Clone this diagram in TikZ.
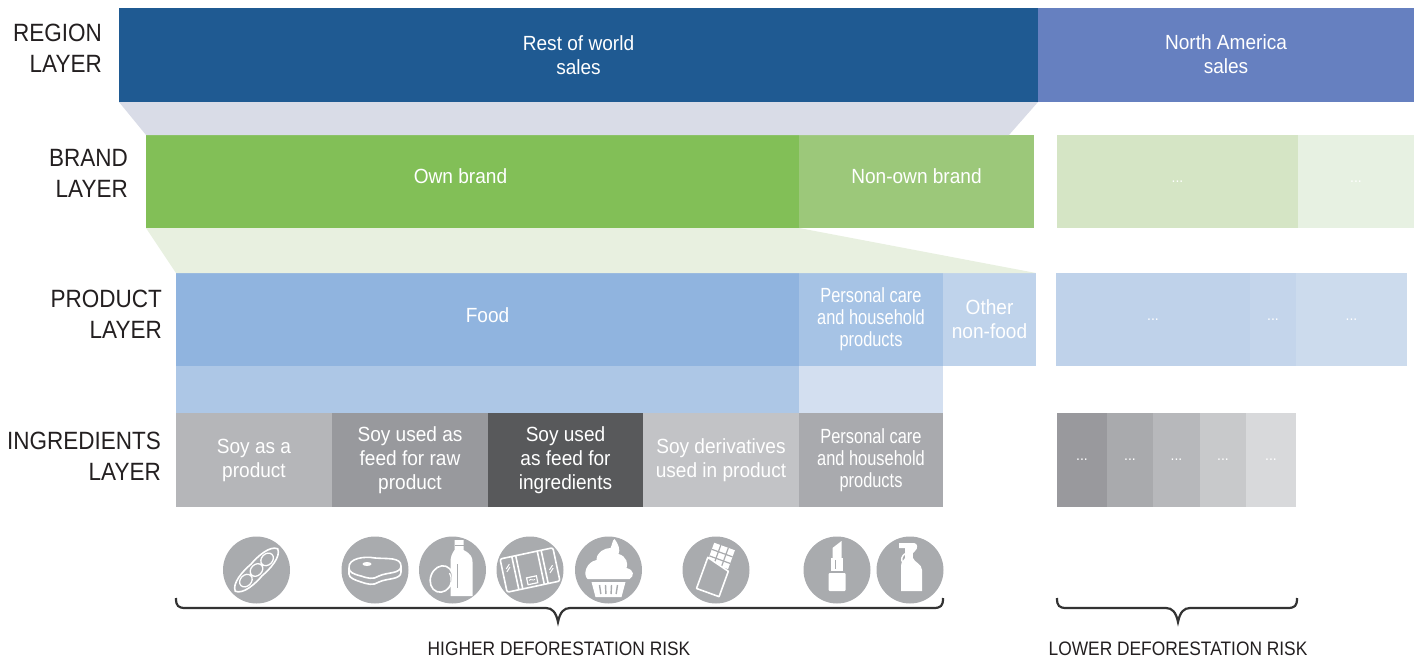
\documentclass[tikz,border=0pt]{standalone}
\usepackage{fontspec}
\setmainfont{Liberation Sans}[FakeStretch=0.93]
\newfontfamily\condfont{Liberation Sans}[FakeStretch=0.8]
\newfontfamily\labfont{Liberation Sans}[FakeStretch=0.9]
\newfontfamily\riskfont{Liberation Sans}[FakeStretch=0.89]
\definecolor{regionblue}{HTML}{1F5A92}
\definecolor{nablue}{HTML}{6680C0}
\definecolor{trapA}{HTML}{D9DCE7}
\definecolor{trapB}{HTML}{E8F0E0}
\definecolor{ownbrand}{HTML}{82BF57}
\definecolor{nonown}{HTML}{9CC87A}
\definecolor{brandRa}{HTML}{D5E5C5}
\definecolor{brandRb}{HTML}{E7F1E2}
\definecolor{foodc}{HTML}{90B4DF}
\definecolor{pcarec}{HTML}{A6C3E5}
\definecolor{othnfc}{HTML}{BFD3EB}
\definecolor{bandA}{HTML}{ADC7E6}
\definecolor{bandB}{HTML}{D3DFF0}
\definecolor{prodRa}{HTML}{BFD2EA}
\definecolor{prodRb}{HTML}{C4D5EB}
\definecolor{prodRc}{HTML}{CCDBED}
\definecolor{ingA}{HTML}{B5B6B9}
\definecolor{ingB}{HTML}{98999D}
\definecolor{ingC}{HTML}{58595B}
\definecolor{ingD}{HTML}{C2C3C6}
\definecolor{ingE}{HTML}{A9AAAE}
\definecolor{ingRa}{HTML}{99999D}
\definecolor{ingRb}{HTML}{A9AAAD}
\definecolor{ingRc}{HTML}{B7B8BB}
\definecolor{ingRd}{HTML}{C8C9CB}
\definecolor{ingRe}{HTML}{D8D9DB}
\definecolor{circgrey}{HTML}{A9ABAE}
\definecolor{bracec}{HTML}{333333}
\definecolor{labtext}{HTML}{231F20}
\begin{document}
\begin{tikzpicture}[x=1pt,y=-1pt,
  box/.style={draw=none,inner sep=0pt,outer sep=0pt,anchor=north west,align=center,text=white,
    font=\fontsize{20.5}{24}\selectfont},
  cbox/.style={box,font=\condfont\fontsize{20.5}{22}\selectfont},
  dots/.style={box,font=\fontsize{15}{18}\selectfont},
  layerlabel/.style={anchor=east,align=right,inner sep=0pt,text=labtext,font=\labfont\fontsize{25}{31}\selectfont},
  risklabel/.style={anchor=base,inner sep=0pt,text=labtext,font=\riskfont\fontsize{19.5}{22}\selectfont},
  icon/.style={circle,fill=circgrey,minimum size=67pt,inner sep=0pt},
  wline/.style={white,line width=1.6pt},
  bracestyle/.style={draw=bracec,line width=2.2pt}]
\useasboundingbox (0,0) rectangle (1417,659);

% region layer
\node[box,fill=regionblue,minimum width=919pt,minimum height=94pt] (row) at (119,8) {Rest of world\\sales};
\node[box,fill=nablue,minimum width=376pt,minimum height=94pt,text depth=2pt] (na) at (1038,8) {North America\\sales};

% brand layer
\node[box,fill=ownbrand,minimum width=653pt,minimum height=93pt,text depth=10pt] (own) at (146,135) {Own brand\hspace*{24pt}};
\node[box,fill=nonown,minimum width=235pt,minimum height=93pt,text depth=10pt] (nonown) at (799,135) {Non-own brand};
\node[dots,fill=brandRa,minimum width=241pt,minimum height=93pt] (brRa) at (1057,135) {...};
\node[dots,fill=brandRb,minimum width=116pt,minimum height=93pt] (brRb) at (1298,135) {...};

% trapezoids
\fill[trapA] (row.south west) -- (row.south east) -- (1009,135) -- (own.north west) -- cycle;

% product layer
\node[box,fill=foodc,minimum width=623pt,minimum height=93pt,text depth=8pt] (food) at (176,273) {Food};
\node[cbox,fill=pcarec,minimum width=144pt,minimum height=93pt] (pcare) at (799,273) {Personal care\\and household\\products};
\node[box,fill=othnfc,minimum width=93pt,minimum height=93pt] (othnf) at (943,273) {Other\\non-food};
\node[dots,fill=prodRa,minimum width=194pt,minimum height=93pt] (prRa) at (1056,273) {...};
\node[dots,fill=prodRb,minimum width=46pt,minimum height=93pt] (prRb) at (1250,273) {...};
\node[dots,fill=prodRc,minimum width=111pt,minimum height=93pt] (prRc) at (1296,273) {...};

\fill[trapB] (own.south west) -- (own.south east) -- (othnf.north east) -- (food.north west) -- cycle;

% band
\node[box,fill=bandA,minimum width=623pt,minimum height=47pt] (bandA) at (176,366) {};
\node[box,fill=bandB,minimum width=144pt,minimum height=47pt] (bandB) at (799,366) {};

% ingredients layer
\node[box,fill=ingA,minimum width=156pt,minimum height=94pt] (ingA) at (176,413) {Soy as a\\product};
\node[box,fill=ingB,minimum width=156pt,minimum height=94pt] (ingB) at (332,413) {Soy used as\\feed for raw\\product};
\node[box,fill=ingC,minimum width=155pt,minimum height=94pt] (ingC) at (488,413) {Soy used\\as feed for\\ingredients};
\node[box,fill=ingD,minimum width=156pt,minimum height=94pt] (ingD) at (643,413) {Soy derivatives\\used in product};
\node[cbox,fill=ingE,minimum width=144pt,minimum height=94pt] (ingE) at (799,413) {Personal care\\and household\\products};
\node[dots,fill=ingRa,minimum width=50pt,minimum height=94pt] (ingRa) at (1057,413) {...};
\node[dots,fill=ingRb,minimum width=46pt,minimum height=94pt] (ingRb) at (1107,413) {...};
\node[dots,fill=ingRc,minimum width=47pt,minimum height=94pt] (ingRc) at (1153,413) {...};
\node[dots,fill=ingRd,minimum width=46pt,minimum height=94pt] (ingRd) at (1200,413) {...};
\node[dots,fill=ingRe,minimum width=50pt,minimum height=94pt] (ingRe) at (1246,413) {...};

% layer labels
\node[layerlabel] (lregion) at (102,48) {REGION\\LAYER};
\node[layerlabel] (lbrand) at (128,173) {BRAND\\LAYER};
\node[layerlabel] (lproduct) at (162,314) {PRODUCT\\LAYER};
\node[layerlabel] (lingr) at (161,456) {INGREDIENTS\\LAYER};

% icons
\node[icon] (icSoy) at (256.5,570) {};
\node[icon] (icSteak) at (375,570) {};
\node[icon] (icMilk) at (452.5,570) {};
\node[icon] (icBox) at (530,570) {};
\node[icon] (icCake) at (608.5,570) {};
\node[icon] (icChoc) at (716,570) {};
\node[icon] (icLip) at (837,570) {};
\node[icon] (icSpray) at (910,570) {};

% soybean pod
\begin{scope}[shift={(icSoy.center)},rotate=45]
  \draw[wline] (-30,0) .. controls (-27,-8) and (-10,-9) .. (0,-8) .. controls (10,-9) and (27,-8) .. (30,0)
     .. controls (27,8) and (10,9) .. (0,8) .. controls (-10,9) and (-27,8) .. (-30,0) -- cycle;
  \draw[wline,line width=1.3pt,fill=circgrey] (-15,0) ellipse [x radius=7,y radius=5.5] (0,0) ellipse [x radius=7,y radius=5.5] (15,0) ellipse [x radius=7,y radius=5.5];
\end{scope}

% steak
\begin{scope}[shift={(icSteak.center)}]
  \draw[wline] (-26,-2) -- (-26,4) .. controls (-26,8) and (-20,10) .. (-14,12) .. controls (-8,14) and (-2,16) .. (4,12)
     .. controls (12,8) and (26,10) .. (26,2) -- (26,-4);
  \draw[wline,fill=circgrey] (-26,-2) .. controls (-27,-12) and (-10,-14) .. (0,-12) .. controls (12,-11) and (26,-13) .. (26,-4)
     .. controls (26,4) and (12,2) .. (4,6) .. controls (-2,10) and (-8,8) .. (-14,6) .. controls (-22,4) and (-26,2) .. (-26,-2) -- cycle;
  \fill[white] (-8,-6) ellipse [x radius=4.5,y radius=2];
\end{scope}

% milk bottle and egg
\begin{scope}[shift={(icMilk.center)}]
  \fill[white] (2,-30) -- (11,-30) -- (11,-20) .. controls (19,-16) and (20,-12) .. (20,-8) -- (20,26) -- (-2,26) -- (-2,-8)
     .. controls (-2,-12) and (-1,-16) .. (2,-20) -- cycle;
  \draw[circgrey,line width=1pt] (2,-25) -- (11,-25);
  \draw[circgrey,line width=1pt] (5,-6) -- (5,18);
  \draw[wline,fill=circgrey,rotate around={-20:(-11,9)}] (-11,9) ellipse [x radius=11,y radius=13.5];
  \draw[white,line width=1.2pt] (-3,3) .. controls (0,8) and (-1,16) .. (-5,19);
\end{scope}

% packaged food box
\begin{scope}[shift={(icBox.center)},rotate=12]
  \draw[wline,rounded corners=2pt] (-27,-17) rectangle (27,17);
  \draw[wline] (-15,-17) -- (-15,17) (-11,-17) -- (-11,17) (11,-17) -- (11,17) (15,-17) -- (15,17);
  \draw[white,line width=1pt] (-23,-6) -- (-19,-10) (-23,-3) -- (-19,-7) (19,4) -- (23,0) (19,7) -- (23,3);
  \draw[white,line width=1.2pt] (-5,7) rectangle (5,14);
  \draw[white,line width=0.8pt] (-3,10) .. controls (-1,8) and (1,12) .. (3,10);
\end{scope}

% cupcake
\begin{scope}[shift={(icCake.center)}]
  \fill[white] (-21,9) .. controls (-26,4) and (-22,-8) .. (-12,-10) .. controls (-12,-18) and (-4,-22) .. (2,-22)
     .. controls (4,-26) and (4,-30) .. (6,-31) .. controls (10,-26) and (12,-20) .. (10,-16)
     .. controls (18,-14) and (20,-6) .. (18,-2) .. controls (26,0) and (26,6) .. (21,9) -- cycle;
  \fill[white] (-17,12) -- (17,12) -- (13,27) -- (-13,27) -- cycle;
  \foreach \xx in {-9,-3,3,9} { \draw[circgrey,line width=1.4pt] (\xx,15) -- ({\xx*0.85},24); }
\end{scope}

% chocolate bar
\begin{scope}[shift={(icChoc.center)},rotate=-20]
  \fill[white] (-11,-25) rectangle (11,-5);
  \draw[circgrey,line width=1.2pt] (-11,-18) -- (11,-18) (-11,-11) -- (11,-11) (-4,-25) -- (-4,-5) (4,-25) -- (4,-5);
  \draw[wline,fill=circgrey,line join=round] (-12,-9) -- (12,-3) -- (12,24) -- (-12,24) -- cycle;
\end{scope}

% lipstick
\begin{scope}[shift={(icLip.center)}]
  \fill[white,rounded corners=1pt] (-8.5,3) rectangle (8.5,21);
  \fill[white] (-6,-12) rectangle (6,1);
  \fill[white] (-4.5,-12) -- (-4.5,-22) -- (4.5,-29) -- (4.5,-12) -- cycle;
  \draw[circgrey,line width=1pt] (-1.5,-10) -- (-1.5,-1);
\end{scope}

% spray bottle
\begin{scope}[shift={(icSpray.center)}]
  \fill[white] (-9,-4) .. controls (-9,-8) and (-6,-10) .. (-5,-12) -- (3,-12) .. controls (4,-8) and (12,-6) .. (12,0) -- (12,21) -- (-9,21) -- cycle;
  \fill[white] (-5,-12) rectangle (3,-17);
  \fill[white] (-11,-27) -- (4,-27) .. controls (8,-27) and (8,-21) .. (5,-19) -- (3,-17) -- (-5,-17) -- (-5,-22) -- (-11,-22) -- cycle;
  \draw[white,line width=1.5pt] (-4,-17) .. controls (-9,-14) and (-9,-10) .. (-7,-7);
\end{scope}

% braces
\coordinate (bLa) at (176,598);
\coordinate (bLtip) at (558,622);
\coordinate (bLb) at (943,598);
\coordinate (bRa) at (1057,598);
\coordinate (bRtip) at (1178,622);
\coordinate (bRb) at (1297,598);
\draw[bracestyle] (bLa) .. controls (176,606) and (178,608) .. (186,608) -- (546,608)
   .. controls (552,608) and (556,612) .. (bLtip) .. controls (560,612) and (564,608) .. (570,608)
   -- (933,608) .. controls (941,608) and (943,606) .. (bLb);
\draw[bracestyle] (bRa) .. controls (1057,606) and (1059,608) .. (1067,608) -- (1166,608)
   .. controls (1172,608) and (1176,612) .. (bRtip) .. controls (1180,612) and (1184,608) .. (1190,608)
   -- (1287,608) .. controls (1295,608) and (1297,606) .. (bRb);

\node[risklabel] (higher) at (559,655) {HIGHER DEFORESTATION RISK};
\node[risklabel] (lower) at (1178,655) {LOWER DEFORESTATION RISK};
\end{tikzpicture}
\end{document}
